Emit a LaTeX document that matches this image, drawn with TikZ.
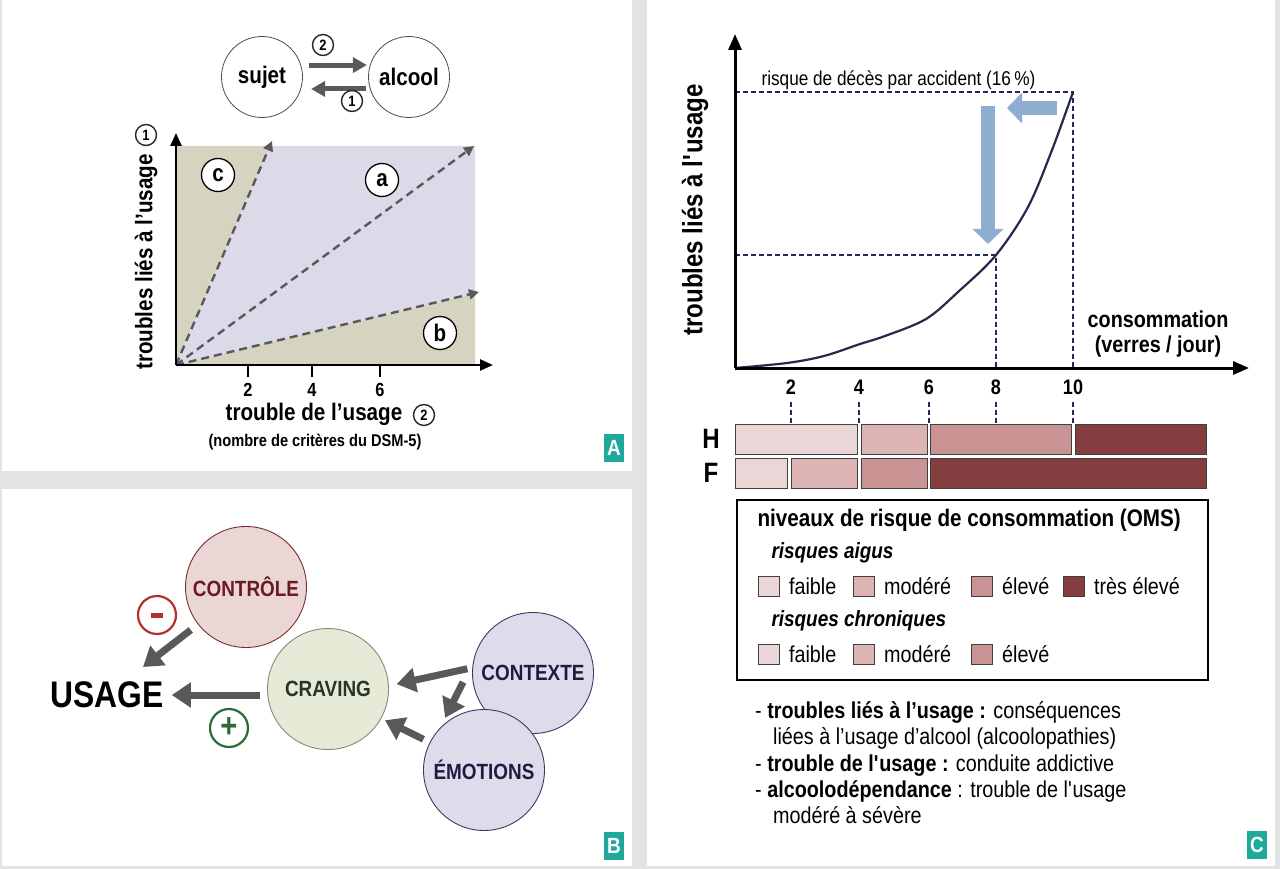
\documentclass[tikz,border=0pt]{standalone}
\usepackage{fontspec}
\setmainfont{Liberation Sans}[FakeStretch=0.86]
\usetikzlibrary{arrows.meta,positioning}

\definecolor{bandgray}{HTML}{E3E3E3}
\definecolor{badge}{HTML}{1FA89C}
\definecolor{arrowgray}{HTML}{58595B}
\definecolor{tanzone}{HTML}{D6D3C1}
\definecolor{lilaczone}{HTML}{DCD9E9}
\definecolor{ctrlfill}{HTML}{EBD6D6}
\definecolor{ctrldraw}{HTML}{7A2A2C}
\definecolor{ctrltext}{HTML}{6B1A1F}
\definecolor{cravfill}{HTML}{E6EBD8}
\definecolor{cravdraw}{HTML}{85877C}
\definecolor{cravtext}{HTML}{2B3324}
\definecolor{ctxfill}{HTML}{DEDBEA}
\definecolor{ctxdraw}{HTML}{3B3862}
\definecolor{ctxtext}{HTML}{1E1C42}
\definecolor{minusred}{HTML}{B3302F}
\definecolor{plusgreen}{HTML}{2C6A36}
\definecolor{navy}{HTML}{27274F}
\definecolor{steelblue}{HTML}{8FACD1}
\definecolor{faible}{HTML}{EAD6D6}
\definecolor{modere}{HTML}{DCB4B4}
\definecolor{eleve}{HTML}{C99393}
\definecolor{treseleve}{HTML}{843E40}

\tikzset{
  bubble/.style={circle,draw=black!70,line width=0.8pt,fill=white,minimum size=81pt,inner sep=0pt,
    font=\bfseries\fontsize{24}{26}\selectfont},
  num/.style={circle,draw=black!85,line width=1.4pt,fill=white,minimum size=21pt,inner sep=0pt,
    font=\bfseries\fontsize{15}{15}\selectfont},
  tag/.style={circle,draw=black,line width=1.3pt,fill=white,minimum size=33pt,inner sep=0pt,
    font=\bfseries\fontsize{24}{24}\selectfont},
  midarrow/.style={draw=arrowgray,line width=5pt,-{Triangle[length=14pt,width=15pt]}},
  bigarrow/.style={draw=arrowgray,line width=7pt,-{Triangle[length=19pt,width=24pt]}},
  trend/.style={draw=arrowgray,line width=2.4pt,dash pattern=on 8pt off 5pt,-{Triangle[length=10pt,width=10pt]}},
  axisline/.style={draw=black,line width=2.6pt,-{Triangle[length=13pt,width=11pt]}},
  factor/.style={circle,line width=0.9pt,minimum size=121pt,inner sep=0pt,
    font=\bfseries\fontsize{22}{24}\selectfont},
  signnode/.style={circle,draw,line width=2.2pt,fill=white,minimum size=38pt,inner sep=0pt},
  guideline/.style={draw=navy,line width=1.3pt,dash pattern=on 5pt off 3pt},
  bluearrow/.style={draw=steelblue,line width=14pt,-{Triangle[length=15pt,width=30pt]}},
  seg/.style={draw=black!75,line width=0.9pt},
  swatch/.style={draw=black!75,line width=0.9pt,minimum width=21pt,minimum height=20pt,inner sep=0pt},
  panelmark/.style={fill=badge,text=white,minimum width=20pt,minimum height=28pt,inner sep=0pt,
    font=\bfseries\fontsize{22}{22}\selectfont},
}

\begin{document}
\begin{tikzpicture}[x=1pt,y=-1pt]

    % -- Page and the three white panels --
    \useasboundingbox (0,0) rectangle (1280,869);
    \fill[bandgray] (0,0) rectangle (1280,869);
    \fill[white] (2,0) rectangle (632,471);     % panel A
    \fill[white] (2,489) rectangle (632,866);   % panel B
    \fill[white] (647,0) rectangle (1275,866);  % panel C

    % ================= Panel A =================
    % -- sujet / alcool loop --
    \node[bubble] (sujet) at (262,77) {sujet};
    \node[bubble] (alcool) at (409,77) {alcool};
    \draw[midarrow, shorten <=8pt, shorten >=3pt] (sujet.17) -- (alcool.163);
    \draw[midarrow, shorten <=4pt, shorten >=10pt] (alcool.197) -- (sujet.-17);
    \node[num] (loop2) at (323,45) {2};
    \node[num] (loop1) at (352,101) {1};

    % -- Zones of the chart --
    \coordinate (O) at (176,365);
    \fill[tanzone] (O) -- (176,146) -- (270,146) -- cycle;
    \fill[lilaczone] (O) -- (270,146) -- (475,146) -- (475,293) -- cycle;
    \fill[tanzone] (O) -- (475,293) -- (475,365) -- cycle;

    % -- Dashed trends --
    \draw[trend] (O) -- (272,141);
    \draw[trend] (O) -- (474,146);
    \draw[trend] (O) -- (479,292);

    % -- Axes and ticks --
    \draw[axisline] (O) -- (176,133);
    \draw[axisline] (O) -- (493,365);
    \foreach \x/\v in {248/2,312/4,380/6} {
      \draw[line width=2.6pt] (\x,365) -- (\x,377);
      \node[font=\bfseries\fontsize{19}{19}\selectfont] (tickA\v) at (\x,390) {\v};
    }

    % -- Zone labels --
    \node[tag] (zonec) at (218,175) {c};
    \node[tag] (zonea) at (382,180) {a};
    \node[tag] (zoneb) at (440,333) {b};

    % -- Axis titles --
    \node[font=\bfseries\fontsize{24}{24}\selectfont] (xlabA) at (314,414) {trouble de l’usage};
    \node[num] (axis2) at (424,415) {2};
    \node[font=\bfseries\fontsize{17}{17}\selectfont] (dsm) at (315,442) {(nombre de critères du DSM-5)};
    \node[rotate=90, font=\bfseries\fontsize{24}{24}\selectfont] (ylabA) at (146,262) {troubles liés à l’usage};
    \node[num] (axis1) at (146,135) {1};

    \node[panelmark] (markA) at (614,448) {A};

    % ================= Panel B =================
    \node[factor, fill=ctrlfill, draw=ctrldraw, text=ctrltext] (ctrl) at (246,587) {CONTRÔLE};
    \node[factor, fill=cravfill, draw=cravdraw, text=cravtext] (crav) at (328,689) {CRAVING};
    \node[factor, fill=ctxfill, draw=ctxdraw, text=ctxtext] (ctx) at (533,673) {CONTEXTE};
    \node[factor, fill=ctxfill, draw=ctxdraw, text=ctxtext] (emo) at (484,770) {ÉMOTIONS};
    \node[inner sep=0pt, font=\bfseries\fontsize{37}{37}\selectfont] (usage) at (107,695) {USAGE};

    % -- Influences --
    \draw[bigarrow, shorten <=9pt, shorten >=24pt] (ctrl) -- (usage);
    \draw[bigarrow, shorten <=7pt, shorten >=8pt] (crav.west |- usage.east) -- (usage.east);
    \draw[bigarrow, shorten <=5pt, shorten >=8pt] (ctx.175) -- (crav.3);
    \draw[bigarrow, shorten <=22pt, shorten >=11pt] (ctx.170) -- (emo.136);
    \draw[bigarrow, shorten <=7pt, shorten >=4pt] (emo.153) -- (crav.-29);

    % -- Signs --
    \node[signnode, draw=minusred] (minus) at (157,615) {\color{minusred}\rule[-2pt]{12pt}{5pt}};
    \node[signnode, draw=plusgreen, text=plusgreen, font=\bfseries\fontsize{34}{34}\selectfont] (plus) at (229,728) {+};

    \node[panelmark] (markB) at (614,846) {B};

    % ================= Panel C =================
    \coordinate (O2) at (735,368);

    % -- Reading guides --
    \draw[guideline] (735,92) -- (1073,92) -- (1073,368);
    \draw[guideline] (735,255) -- (996,255) -- (996,368);
    \foreach \x in {791,859,929,996,1073}
      \draw[guideline] (\x,402) -- (\x,424);

    % -- Risk curve --
    \draw[navy, line width=2.2pt] plot[smooth, tension=0.55] coordinates {
      (735,368) (787,363) (824,356) (860,344) (885,336) (926,319) (958,292)
      (996,255) (1028,207) (1052,150) (1073,92)};

    % -- Axes --
    \draw[axisline, line width=3pt, -{Triangle[length=16pt,width=13pt]}] (O2) -- (735,34);
    \draw[axisline, line width=3pt, -{Triangle[length=16pt,width=13pt]}] (O2) -- (1249,368);

    % -- Shift of the threshold --
    \draw[bluearrow] (1057,108) -- (1007,108);
    \draw[bluearrow] (988,106) -- (988,244);

    \node[anchor=base west, font=\fontsize{20}{20}\selectfont] (risk) at (758,86) {risque de décès par accident (16\,\%)};
    \node[rotate=90, font=\bfseries\fontsize{28}{28}\selectfont] (ylabC) at (695,210) {troubles liés à l\textquotesingle usage};
    \node[align=center, font=\bfseries\fontsize{23}{25}\selectfont] (conso) at (1158,334) {consommation\\(verres / jour)};
    \foreach \x/\v in {791/2,859/4,929/6,996/8,1073/10}
      \node[font=\bfseries\fontsize{21}{21}\selectfont] (tickC\v) at (\x,387) {\v};

    % -- WHO risk bars (men / women) --
    \node[font=\bfseries\fontsize{28}{28}\selectfont] (men) at (711,439) {H};
    \node[font=\bfseries\fontsize{28}{28}\selectfont] (women) at (711,473) {F};
    \foreach \a/\b/\c in {735/857/faible,861/927/modere,930/1071/eleve,1075/1206/treseleve}
      \filldraw[seg, fill=\c] (\a,424) rectangle (\b,454);
    \foreach \a/\b/\c in {735/787/faible,791/857/modere,861/927/eleve,930/1206/treseleve}
      \filldraw[seg, fill=\c] (\a,458) rectangle (\b,488);

    % -- Legend --
    \node[draw, line width=1.5pt, minimum width=471pt, minimum height=180pt, anchor=north west] (legend) at (736,499) {};
    \node[anchor=west, font=\bfseries\fontsize{24}{24}\selectfont] (legtitle) at (754,520) {niveaux de risque de consommation (OMS)};
    \node[anchor=west, font=\bfseries\itshape\fontsize{22}{22}\selectfont] (acute) at (768,553) {risques aigus};
    \node[anchor=west, font=\bfseries\itshape\fontsize{22}{22}\selectfont] (chronic) at (768,621) {risques chroniques};
    \foreach \x/\c/\t/\n in {758/faible/faible/1,853/modere/modéré/2,971/eleve/élevé/3,1063/treseleve/très élevé/4} {
      \node[swatch, fill=\c, anchor=west] (acsw\n) at (\x,586) {};
      \node[anchor=west, inner sep=0pt, font=\fontsize{23}{23}\selectfont] (actx\n) at ([xshift=9pt]acsw\n.east) {\t};
    }
    \foreach \x/\c/\t/\n in {758/faible/faible/1,853/modere/modéré/2,971/eleve/élevé/3} {
      \node[swatch, fill=\c, anchor=west] (chsw\n) at (\x,654) {};
      \node[anchor=west, inner sep=0pt, font=\fontsize{23}{23}\selectfont] (chtx\n) at ([xshift=9pt]chsw\n.east) {\t};
    }

    % -- Definitions --
    \node[anchor=base west, inner sep=0pt, font=\fontsize{23}{23}\selectfont] (def1) at (755,718) {- \textbf{troubles liés à l’usage :} conséquences};
    \node[anchor=base west, inner sep=0pt, font=\fontsize{23}{23}\selectfont] (def2) at (773,744) {liées à l’usage d’alcool (alcoolopathies)};
    \node[anchor=base west, inner sep=0pt, font=\fontsize{23}{23}\selectfont] (def3) at (755,771) {- \textbf{trouble de l\textquotesingle usage :} conduite addictive};
    \node[anchor=base west, inner sep=0pt, font=\fontsize{23}{23}\selectfont] (def4) at (755,797) {- \textbf{alcoolodépendance} : trouble de l\textquotesingle usage};
    \node[anchor=base west, inner sep=0pt, font=\fontsize{23}{23}\selectfont] (def5) at (773,823) {modéré à sévère};

    \node[panelmark] (markC) at (1257,845) {C};

\end{tikzpicture}
\end{document}
